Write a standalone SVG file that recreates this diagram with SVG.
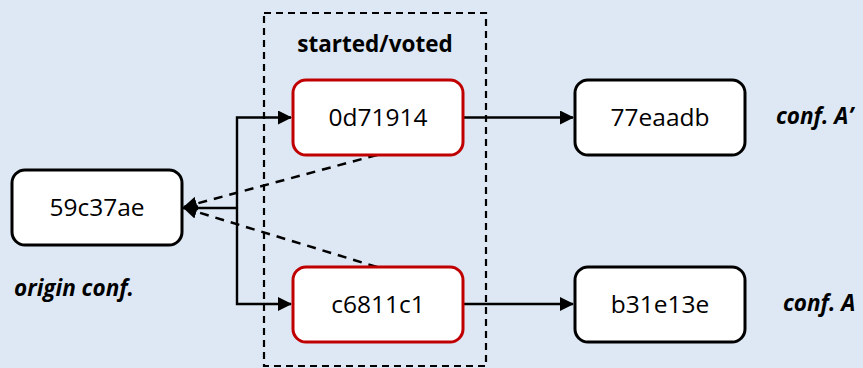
<svg xmlns="http://www.w3.org/2000/svg" width="863" height="368" viewBox="0 0 863 368">
<defs>
<style>
.box{fill:#fff;stroke:#000;stroke-width:3}
.red{fill:#fff;stroke:#c00000;stroke-width:3}
.t{font-family:"Open Sans","Liberation Sans",sans-serif;font-size:24.5px;fill:#000;text-anchor:middle}
.lbl{font-family:"Open Sans","Liberation Sans",sans-serif;font-size:22.5px;font-weight:bold;font-style:italic;fill:#000}
.ln{fill:none;stroke:#000;stroke-width:2.4}
.dl{fill:none;stroke:#000;stroke-width:2.5;stroke-dasharray:9 7}
</style>
<marker id="ah2" markerWidth="14" markerHeight="14" refX="13" refY="7" orient="auto" markerUnits="userSpaceOnUse" viewBox="0 0 14 14">
<path d="M0,0 L14,7 L0,14 z" fill="#000"/>
</marker>
</defs>
<rect width="863" height="368" fill="#dde8f4"/>
<g id="group-started">
<rect x="264" y="13" width="222" height="353" fill="none" stroke="#000" stroke-width="2.2" stroke-dasharray="7 5"/>
<text x="375" y="52" class="lbl" style="font-style:normal" text-anchor="middle">started/voted</text>
</g>
<g id="connectors">
<polyline class="ln" points="183,208 237,208"/>
<polyline class="ln" points="237,208 237,117.5 291,117.5" marker-end="url(#ah2)"/>
<polyline class="ln" points="237,208 237,304 291,304" marker-end="url(#ah2)"/>
<line class="ln" x1="463" y1="117.5" x2="573" y2="117.5" marker-end="url(#ah2)"/>
<line class="ln" x1="463" y1="304" x2="573" y2="304" marker-end="url(#ah2)"/>
<line class="dl" x1="377" y1="155" x2="184" y2="207" marker-end="url(#ah2)"/>
<line class="dl" x1="377" y1="267" x2="184" y2="208" marker-end="url(#ah2)"/>
</g>
<g id="n59c37ae">
<rect class="box" x="12" y="170" width="170" height="75" rx="13"/>
<text class="t" x="97" y="216">59c37ae</text>
</g>
<g id="n0d71914">
<rect class="red" x="293" y="80" width="170" height="75" rx="13"/>
<text class="t" x="378" y="126">0d71914</text>
</g>
<g id="nc6811c1">
<rect class="red" x="293" y="267" width="170" height="75" rx="13"/>
<text class="t" x="378" y="313">c6811c1</text>
</g>
<g id="n77eaadb">
<rect class="box" x="575" y="80" width="170" height="75" rx="13"/>
<text class="t" x="660" y="126">77eaadb</text>
</g>
<g id="nb31e13e">
<rect class="box" x="575" y="267" width="170" height="75" rx="13"/>
<text class="t" x="660" y="313">b31e13e</text>
</g>
<text class="lbl" x="14" y="296">origin conf.</text>
<text class="lbl" x="776" y="124">conf. A’</text>
<text class="lbl" x="783" y="311">conf. A</text>
</svg>
